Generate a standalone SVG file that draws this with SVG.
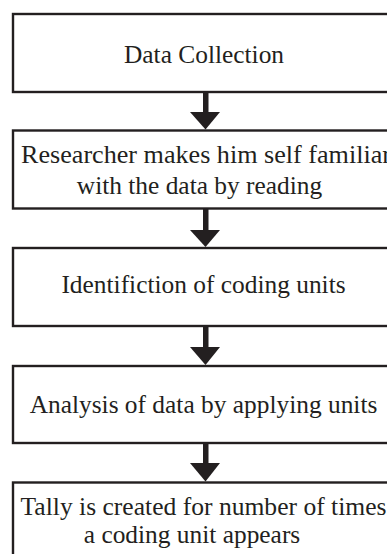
<svg xmlns="http://www.w3.org/2000/svg" width="387" height="554" viewBox="0 0 387 554">
<style>
.box{fill:#fff;stroke:#231f20;stroke-width:2.4}
.t{font-family:"Liberation Serif","Times New Roman",serif;font-size:25.4px;fill:#231f20;text-anchor:middle}
.sh{fill:#231f20}
</style>
<rect width="387" height="554" fill="#fff"/>
<g id="n1"><rect class="box" x="13" y="14" width="400" height="78"/><text class="t" x="204" y="62.5">Data Collection</text></g>
<g id="n2"><rect class="box" x="13" y="130.5" width="400" height="78"/><text class="t" x="206" y="163" textLength="370" lengthAdjust="spacingAndGlyphs">Researcher makes him self familiar</text><text class="t" x="199.5" y="194">with the data by reading</text></g>
<g id="n3"><rect class="box" x="13" y="248" width="400" height="78"/><text class="t" x="203.5" y="293">Identifiction of coding units</text></g>
<g id="n4"><rect class="box" x="13" y="366" width="400" height="77"/><text class="t" x="203.5" y="413">Analysis of data by applying units</text></g>
<g id="n5"><rect class="box" x="13" y="482.5" width="400" height="90"/><text class="t" x="203.5" y="515" textLength="366" lengthAdjust="spacingAndGlyphs">Tally is created for number of times</text><text class="t" x="192" y="543">a coding unit appears</text></g>
<g id="connectors">
<rect class="sh" x="203" y="92" width="5.5" height="21"/><polygon class="sh" points="190,112 220,112 205.5,129.5"/>
<rect class="sh" x="203" y="208.5" width="5.5" height="22"/><polygon class="sh" points="190,230 220,230 205.5,247"/>
<rect class="sh" x="203" y="326" width="5.5" height="22"/><polygon class="sh" points="190,347 220,347 205.5,365"/>
<rect class="sh" x="203" y="443" width="5.5" height="21"/><polygon class="sh" points="190,463 220,463 205.5,481.5"/>
</g>
</svg>
